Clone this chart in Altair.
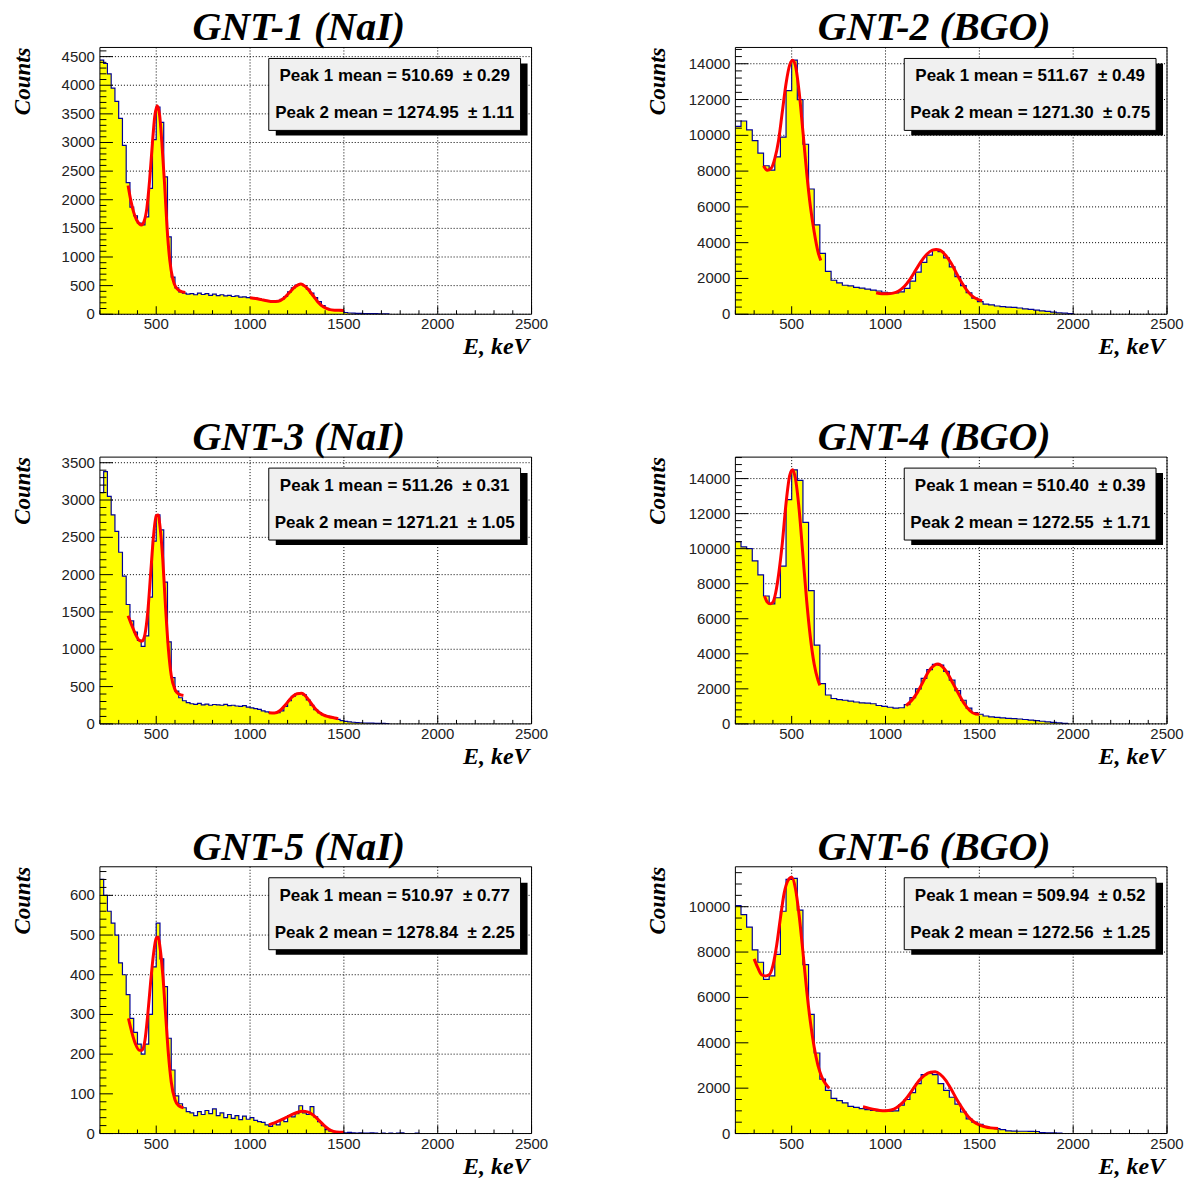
import altair as alt
import pandas as pd

# ---------------- data ----------------
TITLES = ["GNT-1 (NaI)", "GNT-2 (BGO)", "GNT-3 (NaI)", "GNT-4 (BGO)", "GNT-5 (NaI)", "GNT-6 (BGO)"]
PEAK1_TEXT = ["Peak 1 mean = 510.69\u00a0 \u00b1 0.29", "Peak 1 mean = 511.67\u00a0 \u00b1 0.49",
              "Peak 1 mean = 511.26\u00a0 \u00b1 0.31", "Peak 1 mean = 510.40\u00a0 \u00b1 0.39",
              "Peak 1 mean = 510.97\u00a0 \u00b1 0.77", "Peak 1 mean = 509.94\u00a0 \u00b1 0.52"]
PEAK2_TEXT = ["Peak 2 mean = 1274.95\u00a0 \u00b1 1.11", "Peak 2 mean = 1271.30\u00a0 \u00b1 0.75",
              "Peak 2 mean = 1271.21\u00a0 \u00b1 1.05", "Peak 2 mean = 1272.55\u00a0 \u00b1 1.71",
              "Peak 2 mean = 1278.84\u00a0 \u00b1 2.25", "Peak 2 mean = 1272.56\u00a0 \u00b1 1.25"]
X_TITLE = "E, keV"
Y_TITLE = "Counts"

X_DOMAIN = [200, 2500]
X_LABELS = [500, 1000, 1500, 2000, 2500]
Y_MAX = [4660, 14910, 3575, 15225, 672, 11760]
Y_LABELS = [
    [0, 500, 1000, 1500, 2000, 2500, 3000, 3500, 4000, 4500],
    [0, 2000, 4000, 6000, 8000, 10000, 12000, 14000],
    [0, 500, 1000, 1500, 2000, 2500, 3000, 3500],
    [0, 2000, 4000, 6000, 8000, 10000, 12000, 14000],
    [0, 100, 200, 300, 400, 500, 600],
    [0, 2000, 4000, 6000, 8000, 10000],
]
Y_MINOR_STEP = [100, 400, 100, 400, 20, 500]

BIN_START = [200, 200, 200, 200, 200, 200]
BIN_WIDTH = [20, 30, 20, 30, 20, 30]

GNT1_COUNTS = [4440, 4380, 4200, 3950, 3720, 3420, 2950, 2300, 1870, 1720,
               1590, 1560, 1700, 2200, 3050, 3620, 3350, 2400, 1350, 650,
               460, 390, 370, 350, 360, 340, 370, 345, 360, 330,
               350, 325, 340, 320, 330, 310, 320, 300, 305, 290,
               285, 280, 270, 255, 240, 230, 220, 225, 260, 310,
               390, 460, 510, 525, 500, 440, 370, 290, 220, 150,
               105, 80, 70, 65, 60, 30, 22, 18, 15, 14,
               12, 11, 10, 9, 8, 8, 6]
GNT2_COUNTS = [10500, 10800, 10300, 9700, 9000, 8300, 8050, 8800, 9900, 12500,
               14200, 12000, 9500, 7000, 5000, 3400, 2400, 1900, 1750, 1620,
               1580, 1500, 1460, 1400, 1350, 1300, 1230, 1200, 1190, 1250,
               1450, 1850, 2350, 2900, 3300, 3580, 3500, 3150, 2650, 2100,
               1600, 1200, 900, 700, 560, 520, 460, 420, 400, 380,
               350, 300, 270, 230, 190, 160, 120, 80, 60, 30]
GNT3_COUNTS = [3100, 3380, 3050, 2800, 2580, 2300, 1980, 1600, 1380, 1230,
               1120, 1040, 1180, 1700, 2450, 2800, 2600, 1900, 1100, 620,
               440, 350, 310, 285, 270, 262, 275, 255, 265, 250,
               260, 255, 250, 262, 245, 250, 240, 235, 245, 225,
               215, 205, 195, 175, 160, 150, 145, 150, 175, 235,
               310, 370, 405, 410, 390, 320, 250, 190, 150, 120,
               105, 95, 80, 60, 45, 35, 28, 22, 18, 15,
               12, 10, 9, 8, 7, 6, 5]
GNT4_COUNTS = [10400, 10100, 10000, 9300, 8500, 7300, 6850, 7200, 9000, 12800,
               14500, 13900, 11500, 7600, 4500, 2300, 1650, 1450, 1380, 1350,
               1300, 1250, 1200, 1180, 1150, 1050, 1000, 950, 900, 920,
               1100, 1500, 2000, 2600, 3100, 3400, 3350, 3000, 2500, 1900,
               1350, 900, 650, 550, 450, 400, 370, 340, 320, 300,
               280, 250, 220, 190, 150, 120, 90, 60, 30]
GNT5_COUNTS = [640, 600, 560, 530, 500, 430, 400, 350, 290, 255,
               225, 200, 225, 300, 420, 530, 440, 370, 240, 160,
               95, 75, 65, 55, 52, 45, 55, 48, 58, 50,
               62, 45, 52, 40, 48, 38, 45, 35, 44, 36,
               40, 33, 30, 28, 22, 18, 25, 22, 35, 30,
               45, 42, 50, 70, 52, 48, 68, 42, 30, 20,
               10, 6, 5, 4, 3, 2, 3, 2, 1, 2,
               1, 1, 2, 1, 0, 1, 0, 1, 0, 1,
               2, 0, 0, 0, 1]
GNT6_COUNTS = [10050, 9650, 9100, 8100, 7550, 6800, 6950, 7900, 9800, 11200,
               11250, 9850, 7450, 5250, 3550, 2400, 1900, 1550, 1450, 1350,
               1200, 1150, 1100, 1050, 1020, 1000, 980, 990, 1000, 1250,
               1500, 1800, 2200, 2600, 2650, 2600, 2200, 1900, 1600, 1300,
               950, 650, 500, 400, 300, 250, 220, 170, 120, 110,
               100, 100, 95, 90, 40, 30, 25, 20]
COUNTS = [GNT1_COUNTS, GNT2_COUNTS, GNT3_COUNTS, GNT4_COUNTS, GNT5_COUNTS, GNT6_COUNTS]

# red fit curves (two fitted ranges per panel)
GNT1_FIT1_X = [350, 365, 380, 395, 410, 422, 435, 450, 465, 480, 492, 505, 518, 530, 545, 558, 572, 588, 605, 620, 640, 655]
GNT1_FIT1_Y = [2250, 1980, 1780, 1650, 1580, 1560, 1620, 1850, 2350, 3000, 3450, 3640, 3480, 3000, 2250, 1500, 950, 620, 470, 420, 390, 380]
GNT1_FIT2_X = [1000, 1030, 1060, 1090, 1120, 1150, 1180, 1210, 1240, 1270, 1300, 1330, 1360, 1390, 1420, 1450, 1480, 1500]
GNT1_FIT2_Y = [290, 275, 255, 235, 222, 228, 280, 380, 480, 530, 470, 350, 220, 130, 85, 70, 68, 66]

GNT2_FIT1_X = [350, 370, 390, 410, 430, 450, 470, 490, 505, 520, 540, 560, 580, 600, 620, 640, 655]
GNT2_FIT1_Y = [8300, 8050, 8150, 8700, 9700, 11300, 12900, 13950, 14200, 13900, 12400, 10200, 7900, 6000, 4600, 3500, 3000]
GNT2_FIT2_X = [950, 980, 1010, 1040, 1070, 1100, 1130, 1160, 1190, 1220, 1250, 1270, 1290, 1320, 1350, 1380, 1410, 1440, 1470, 1500, 1515]
GNT2_FIT2_Y = [1200, 1150, 1150, 1180, 1300, 1550, 1950, 2450, 2950, 3350, 3580, 3620, 3580, 3300, 2850, 2250, 1700, 1250, 950, 800, 750]

GNT3_FIT1_X = [350, 370, 390, 410, 425, 440, 455, 470, 485, 500, 510, 520, 535, 550, 565, 580, 600, 620, 645]
GNT3_FIT1_Y = [1450, 1320, 1200, 1120, 1110, 1200, 1500, 2000, 2500, 2790, 2800, 2650, 2200, 1550, 1000, 650, 460, 400, 380]
GNT3_FIT2_X = [1100, 1130, 1160, 1190, 1220, 1250, 1275, 1300, 1330, 1360, 1390, 1420, 1450, 1470]
GNT3_FIT2_Y = [150, 145, 180, 260, 350, 405, 410, 360, 260, 170, 120, 95, 80, 70]

GNT4_FIT1_X = [355, 370, 385, 400, 415, 430, 450, 470, 490, 505, 520, 540, 560, 580, 600, 620, 640, 650]
GNT4_FIT1_Y = [7300, 6950, 6850, 6950, 7500, 8500, 10300, 12600, 14200, 14500, 14000, 12200, 9600, 7000, 4900, 3400, 2500, 2200]
GNT4_FIT2_X = [1110, 1140, 1170, 1200, 1230, 1260, 1280, 1300, 1330, 1360, 1390, 1420, 1450, 1480, 1500]
GNT4_FIT2_Y = [1050, 1350, 1800, 2400, 3000, 3350, 3420, 3300, 2900, 2300, 1700, 1150, 750, 560, 550]

GNT5_FIT1_X = [352, 370, 390, 410, 425, 440, 455, 470, 485, 500, 510, 520, 535, 550, 565, 580, 600, 620, 645]
GNT5_FIT1_Y = [290, 255, 225, 210, 210, 235, 300, 380, 450, 492, 495, 470, 400, 300, 200, 130, 85, 70, 65]
GNT5_FIT2_X = [1100, 1130, 1160, 1190, 1220, 1250, 1280, 1310, 1340, 1370, 1400, 1430, 1460, 1500]
GNT5_FIT2_Y = [22, 27, 33, 40, 47, 53, 56, 54, 45, 32, 18, 8, 4, 3]

GNT6_FIT1_X = [300, 320, 340, 360, 380, 400, 420, 440, 460, 480, 500, 520, 540, 560, 580, 600, 620, 640, 660, 680, 700]
GNT6_FIT1_Y = [7700, 7300, 7000, 6950, 7000, 7400, 8300, 9500, 10600, 11150, 11300, 10800, 9600, 8000, 6300, 4900, 3800, 3000, 2500, 2200, 2000]
GNT6_FIT2_X = [880, 910, 940, 970, 1000, 1030, 1060, 1090, 1120, 1150, 1180, 1210, 1240, 1265, 1290, 1320, 1350, 1380, 1410, 1440, 1470, 1500, 1530, 1560, 1600]
GNT6_FIT2_Y = [1180, 1120, 1060, 1020, 1010, 1040, 1150, 1350, 1650, 2000, 2350, 2580, 2700, 2720, 2620, 2350, 1950, 1500, 1100, 750, 520, 380, 300, 250, 220]

FITS = [
    (GNT1_FIT1_X, GNT1_FIT1_Y, GNT1_FIT2_X, GNT1_FIT2_Y),
    (GNT2_FIT1_X, GNT2_FIT1_Y, GNT2_FIT2_X, GNT2_FIT2_Y),
    (GNT3_FIT1_X, GNT3_FIT1_Y, GNT3_FIT2_X, GNT3_FIT2_Y),
    (GNT4_FIT1_X, GNT4_FIT1_Y, GNT4_FIT2_X, GNT4_FIT2_Y),
    (GNT5_FIT1_X, GNT5_FIT1_Y, GNT5_FIT2_X, GNT5_FIT2_Y),
    (GNT6_FIT1_X, GNT6_FIT1_Y, GNT6_FIT2_X, GNT6_FIT2_Y),
]

# ---------------- styling ----------------
W, H = 432, 267
YELLOW = "#ffff00"
BLUE = "#000099"
RED = "#ff0000"
SANS = "Liberation Sans"
SERIF = "Liberation Serif"
LABEL_COLOR = "#222222"


def panel(k):
    counts = COUNTS[k]
    n = len(counts)
    edges = [BIN_START[k] + BIN_WIDTH[k] * i for i in range(n + 1)]
    hist_area = pd.DataFrame({"E": edges, "N": counts + [counts[-1]]})
    hist_line = pd.DataFrame({
        "E": edges + [edges[-1]],
        "N": counts + [counts[-1], 0],
        "i": list(range(n + 2)),
    })
    xs = alt.Scale(domain=X_DOMAIN, nice=False, zero=False)
    ys = alt.Scale(domain=[0, Y_MAX[k]], nice=False, zero=False)

    # dotted grid (under the histogram)
    xgrid = alt.Chart(pd.DataFrame({"v": X_LABELS})).mark_rule(
        color="black", strokeWidth=1, strokeDash=[1, 2]).encode(
        x=alt.X("v:Q", scale=xs, axis=None), y=alt.value(0), y2=alt.value(H))
    ygrid = alt.Chart(pd.DataFrame({"v": Y_LABELS[k]})).mark_rule(
        color="black", strokeWidth=1, strokeDash=[1, 2]).encode(
        y=alt.Y("v:Q", scale=ys, axis=None), x=alt.value(0), x2=alt.value(W))

    area = alt.Chart(hist_area).mark_area(interpolate="step-after", color=YELLOW, clip=True).encode(
        x=alt.X("E:Q", axis=None),
        y=alt.Y("N:Q", axis=None, stack=False),
    )
    outline = alt.Chart(hist_line).mark_line(interpolate="step-after", color=BLUE, strokeWidth=1.2,
                                             clip=True).encode(
        x=alt.X("E:Q", axis=None), y=alt.Y("N:Q", axis=None), order=alt.Order("i:Q"))

    f1x, f1y, f2x, f2y = FITS[k]
    fit = pd.DataFrame({"E": f1x + f2x, "N": f1y + f2y,
                        "seg": ["a"] * len(f1x) + ["b"] * len(f2x)})
    fitline = alt.Chart(fit).mark_line(color=RED, strokeWidth=3, interpolate="monotone",
                                       clip=True).encode(
        x=alt.X("E:Q", axis=None), y=alt.Y("N:Q", axis=None), detail="seg:N")

    # axis ticks drawn inward like the original
    ystep = Y_MINOR_STEP[k]
    ymin_vals = [v for v in range(0, Y_MAX[k] + 1, ystep) if v not in Y_LABELS[k]]
    ymaj = alt.Chart(pd.DataFrame({"v": Y_LABELS[k]})).mark_rule(color="black", strokeWidth=1).encode(
        y=alt.Y("v:Q", axis=None), x=alt.value(0), x2=alt.value(13))
    ymin = alt.Chart(pd.DataFrame({"v": ymin_vals})).mark_rule(color="black", strokeWidth=1).encode(
        y=alt.Y("v:Q", axis=None), x=alt.value(0), x2=alt.value(6.5))
    xmin_vals = [v for v in range(X_DOMAIN[0], X_DOMAIN[1] + 1, 100) if v not in X_LABELS]
    xmaj = alt.Chart(pd.DataFrame({"v": X_LABELS})).mark_rule(color="black", strokeWidth=1).encode(
        x=alt.X("v:Q", axis=None), y=alt.value(H), y2=alt.value(H - 8))
    xmin = alt.Chart(pd.DataFrame({"v": xmin_vals})).mark_rule(color="black", strokeWidth=1).encode(
        x=alt.X("v:Q", axis=None), y=alt.value(H), y2=alt.value(H - 4))

    # tick labels
    xlab = alt.Chart(pd.DataFrame({"v": X_LABELS, "s": [str(v) for v in X_LABELS]})).mark_text(
        font=SANS, fontSize=15, color=LABEL_COLOR, align="center", baseline="top").encode(
        x=alt.X("v:Q", axis=None), y=alt.value(H + 3), text="s:N")
    ylab = alt.Chart(pd.DataFrame({"v": Y_LABELS[k], "s": [str(v) for v in Y_LABELS[k]]})).mark_text(
        font=SANS, fontSize=15, color=LABEL_COLOR, align="right", baseline="middle").encode(
        y=alt.Y("v:Q", axis=None), x=alt.value(-5), text="s:N")

    one = pd.DataFrame({"a": [0]})
    ptitle = alt.Chart(one).mark_text(
        text=TITLES[k], font=SERIF, fontSize=40, fontStyle="italic", fontWeight="bold", color="black",
        align="center", baseline="alphabetic").encode(x=alt.value(W / 2 - 17), y=alt.value(-7))
    xtitle = alt.Chart(one).mark_text(
        text=X_TITLE, font=SERIF, fontSize=24, fontStyle="italic", fontWeight="bold", color="black",
        align="right", baseline="alphabetic").encode(x=alt.value(W - 2), y=alt.value(H + 40))
    ytitle = alt.Chart(one).mark_text(
        text=Y_TITLE, font=SERIF, fontSize=23, fontStyle="italic", fontWeight="bold", color="black",
        align="right", baseline="alphabetic", angle=270).encode(x=alt.value(-70), y=alt.value(0))

    frame = alt.Chart(one).mark_rect(fill="white", fillOpacity=0, stroke="black", strokeWidth=1).encode(
        x=alt.value(0), x2=alt.value(W), y=alt.value(0), y2=alt.value(H))
    shadow = alt.Chart(one).mark_rect(color="black").encode(
        x=alt.value(176), x2=alt.value(428), y=alt.value(16), y2=alt.value(88))
    box = alt.Chart(one).mark_rect(fill="#f0f0f0", stroke="black", strokeWidth=1).encode(
        x=alt.value(169), x2=alt.value(421), y=alt.value(11), y2=alt.value(83))
    t1 = alt.Chart(pd.DataFrame({"t": [PEAK1_TEXT[k]]})).mark_text(
        font=SANS, fontSize=17, fontWeight="bold", color="black", align="center", baseline="middle").encode(
        x=alt.value(295), y=alt.value(29), text="t:N")
    t2 = alt.Chart(pd.DataFrame({"t": [PEAK2_TEXT[k]]})).mark_text(
        font=SANS, fontSize=17, fontWeight="bold", color="black", align="center", baseline="middle").encode(
        x=alt.value(295), y=alt.value(66), text="t:N")

    return alt.layer(xgrid, ygrid, area, outline, fitline, ymaj, ymin, xmaj, xmin, xlab, ylab,
                     ptitle, xtitle, ytitle, frame, shadow, box, t1, t2).properties(width=W, height=H)


chart = alt.concat(*[panel(k) for k in range(6)], columns=2,
                   spacing={"row": 143, "column": 204}, bounds="flush").configure_view(
    strokeWidth=0).properties(padding={"left": 4, "top": 0, "right": 0, "bottom": 0})

chart.save("out.html", embed_options={"renderer": "svg", "actions": False})
